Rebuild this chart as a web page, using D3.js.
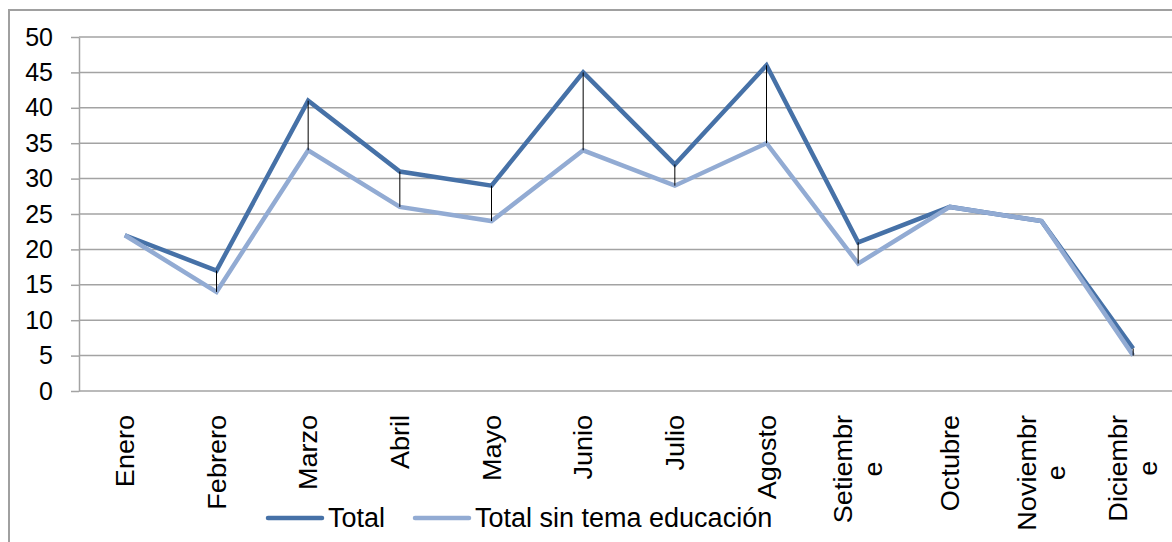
<!DOCTYPE html>
<html>
<head>
<meta charset="utf-8">
<script src="https://cdn.jsdelivr.net/npm/d3@7"></script>
<style>
  body { margin: 0; background: #fff; }
  svg { display: block; font-family: "Liberation Sans", Arial, sans-serif; }
</style>
</head>
<body>
<svg id="chart" width="1172" height="542"></svg>
<script>
// Data
const months = ['Enero', 'Febrero', 'Marzo', 'Abril', 'Mayo', 'Junio', 'Julio',
    'Agosto', 'Setiembre', 'Octubre', 'Noviembre', 'Diciembre'];
const monthLabels = [['Enero'], ['Febrero'], ['Marzo'], ['Abril'], ['Mayo'], ['Junio'],
    ['Julio'], ['Agosto'], ['Setiembr', 'e'], ['Octubre'], ['Noviembr', 'e'], ['Diciembr', 'e']];
const total = [22, 17, 41, 31, 29, 45, 32, 46, 21, 26, 24, 6];
const sinEducacion = [22, 14, 34, 26, 24, 34, 29, 35, 18, 26, 24, 5];
const yTicks = [0, 5, 10, 15, 20, 25, 30, 35, 40, 45, 50];
const seriesNames = ['Total', 'Total sin tema educación'];

const colors = { total: '#4671a7', sin: '#92abd3', grid: '#a3a3a3' };

const svg = d3.select('#chart');
const W = 1172;

// Outer chart border (runs off the right and bottom edges)
svg.append('rect')
    .attr('x', 9).attr('y', 10)
    .attr('width', 1300).attr('height', 600)
    .attr('fill', 'none')
    .attr('stroke', '#a0a0a0')
    .attr('stroke-width', 2);

const x = d3.scalePoint()
    .domain(months)
    .range([79, 1179])
    .padding(0.5);

const y = d3.scaleLinear()
    .domain([0, 50])
    .range([391, 37]);

// Gridlines
svg.append('g')
    .selectAll('line')
    .data(yTicks)
    .enter()
    .append('line')
    .attr('x1', 79).attr('x2', W)
    .attr('y1', d => y(d)).attr('y2', d => y(d))
    .attr('stroke', colors.grid)
    .attr('stroke-width', 1.5);

// Y axis
const yAxis = svg.append('g')
    .attr('transform', 'translate(79,0)')
    .call(d3.axisLeft(y).tickValues(yTicks).tickSize(8).tickPadding(18).tickSizeOuter(0));
yAxis.select('.domain').attr('stroke', colors.grid).attr('stroke-width', 1.5);
yAxis.selectAll('.tick line').attr('stroke', colors.grid).attr('stroke-width', 1.5);
yAxis.selectAll('.tick text')
    .attr('fill', '#000')
    .style('font-size', '25px')
    .style('font-family', '"Liberation Sans", Arial, sans-serif');

// X axis labels (rotated, wrapped like the original)
const labelTop = 415;
const lineGap = 30;
const labelGroups = svg.append('g')
    .selectAll('g')
    .data(months)
    .enter()
    .append('g')
    .attr('transform', d => `translate(${x(d)},${labelTop}) rotate(-90) scale(1.04,1)`);

labelGroups.each(function (d, i) {
    const g = d3.select(this);
    const lines = monthLabels[i];
    const texts = lines.map((t, j) => g.append('text')
        .attr('y', 9 + (j - (lines.length - 1) / 2) * lineGap)
        .style('font-size', '26px')
        .attr('fill', '#000')
        .text(t));
    const len = d3.max(texts, t => t.node().getComputedTextLength());
    texts.forEach(t => t.attr('x', -len / 2).attr('text-anchor', 'middle'));
});

// Lines
const line = d3.line()
    .x((d, i) => x(months[i]))
    .y(d => y(d));

svg.append('path')
    .datum(total)
    .attr('d', line)
    .attr('fill', 'none')
    .attr('stroke', colors.total)
    .attr('stroke-width', 4.5)
    .attr('stroke-linejoin', 'miter');

svg.append('path')
    .datum(sinEducacion)
    .attr('d', line)
    .attr('fill', 'none')
    .attr('stroke', colors.sin)
    .attr('stroke-width', 4.5)
    .attr('stroke-linejoin', 'miter');

// High-low lines
svg.append('g')
    .selectAll('line')
    .data(months)
    .enter()
    .append('line')
    .attr('x1', d => x(d)).attr('x2', d => x(d))
    .attr('y1', (d, i) => y(total[i]))
    .attr('y2', (d, i) => y(sinEducacion[i]))
    .attr('stroke', '#000')
    .attr('stroke-width', 1);

// Legend
const legendItems = [
    { name: seriesNames[0], color: colors.total, x: 268 },
    { name: seriesNames[1], color: colors.sin, x: 415 }
];
const legend = svg.append('g')
    .selectAll('g')
    .data(legendItems)
    .enter()
    .append('g')
    .attr('transform', d => `translate(${d.x},518)`);

legend.append('line')
    .attr('x1', 0).attr('x2', 54)
    .attr('stroke', d => d.color)
    .attr('stroke-width', 4.5)
    .attr('stroke-linecap', 'round');

legend.append('text')
    .attr('x', 60)
    .attr('y', 9)
    .style('font-size', '27px')
    .attr('fill', '#000')
    .text(d => d.name);
</script>
</body>
</html>
